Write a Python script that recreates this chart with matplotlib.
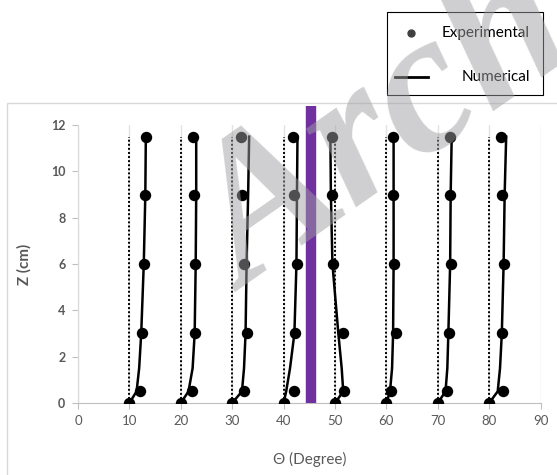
import matplotlib.pyplot as plt
from matplotlib.lines import Line2D
from matplotlib.patches import Rectangle

plt.rcParams['font.family'] = ['Lato', 'DejaVu Sans']

# heights of the measured points (cm)
z_exp = [0, 0.5, 3, 6, 9, 11.5]
z_num = [0, 0.5, 1.5, 3, 6, 9, 11.5]

# initial angle of each case (dotted reference lines)
theta0 = [10, 20, 30, 40, 50, 60, 70, 80]

exp_10 = [10, 12.1, 12.5, 12.9, 13.1, 13.2]
exp_20 = [20, 22.1, 22.8, 22.8, 22.6, 22.3]
exp_30 = [30, 32.2, 32.8, 32.2, 31.85, 31.65]
exp_40 = [40, 42.1, 42.2, 42.55, 42.1, 41.8]
exp_50 = [50, 51.75, 51.6, 49.55, 49.5, 49.5]
exp_60 = [60, 60.8, 61.8, 61.5, 61.35, 61.2]
exp_70 = [70, 71.85, 72.25, 72.6, 72.4, 72.4]
exp_80 = [80, 82.6, 82.45, 82.95, 82.55, 82.2]

num_10 = [10, 11.4, 11.9, 12.3, 12.8, 13.1, 13.2]
num_20 = [20, 21.5, 22.3, 22.7, 22.9, 23.0, 23.0]
num_30 = [30, 31.9, 32.3, 32.6, 32.8, 33.1, 33.3]
num_40 = [40, 40.5, 41.25, 42.1, 42.5, 42.6, 42.7]
num_50 = [50, 51.6, 51.3, 50.65, 49.5, 49.2, 49.1]
num_60 = [60, 60.7, 61.1, 61.3, 61.4, 61.4, 61.4]
num_70 = [70, 71.5, 71.85, 72.05, 72.4, 72.5, 72.7]
num_80 = [80, 81.65, 82.1, 82.45, 82.8, 83.0, 83.3]

exp_all = [exp_10, exp_20, exp_30, exp_40, exp_50, exp_60, exp_70, exp_80]
num_all = [num_10, num_20, num_30, num_40, num_50, num_60, num_70, num_80]

# purple marker line
bar_theta = 45.4
bar_top = 12.8
ref_top = 11.5

x_ticks = [0, 10, 20, 30, 40, 50, 60, 70, 80, 90]
y_ticks = [0, 2, 4, 6, 8, 10, 12]

fig = plt.figure(figsize=(5.57, 4.75), dpi=100)
ax = fig.add_axes([0.140, 0.1516, 0.8306, 0.5852])

# outer chart frame
fig.patches.append(Rectangle((7 / 557, -0.01), 1.0, 1 - 103 / 475 + 0.01,
                             transform=fig.transFigure, fill=False,
                             edgecolor='#d9d9d9', lw=1.0))

for t0 in theta0:
    ax.plot([t0, t0], [0, ref_top], color='black', lw=1.4,
            linestyle=(0, (1, 1.1)), zorder=2)

for num in num_all:
    ax.plot(num, z_num, color='black', lw=1.8, zorder=3)

for ex in exp_all:
    ax.plot(ex, z_exp, 'o', color='black', ms=7.2, zorder=4)

ax.plot([bar_theta, bar_theta], [0, bar_top], color='#7030a0', lw=7.5,
        solid_capstyle='butt', clip_on=False, zorder=5)

ax.set_xlim(0, 90)
ax.set_ylim(0, 12)
ax.set_xticks(x_ticks)
ax.set_yticks(y_ticks)
ax.grid(axis='x', color='#e3e3e3', lw=1.0)
ax.set_axisbelow(True)
for s in ['top', 'right']:
    ax.spines[s].set_visible(False)
ax.spines['left'].set_color('#d9d9d9')
ax.spines['bottom'].set_color('#bfbfbf')
ax.tick_params(axis='y', length=4, color='#bfbfbf', labelcolor='#595959',
               labelsize=9, pad=5)
ax.tick_params(axis='x', length=4, color='#bfbfbf', labelcolor='#595959',
               labelsize=9.5, pad=5)
for lab in ax.get_yticklabels():
    lab.set_fontweight('bold')

ax.set_ylabel('Z (cm)', fontsize=11, fontweight='bold', color='#595959')
ax.yaxis.set_label_coords(-0.10, 0.5)
ax.set_xlabel('\u0398 (Degree)', fontsize=11, color='#595959')
ax.xaxis.set_label_coords(0.5, -0.175)

# legend box
fig.patches.append(Rectangle((387 / 557, 1 - 95 / 475), 156 / 557, 83 / 475,
                             transform=fig.transFigure, facecolor='white',
                             edgecolor='black', lw=0.8, zorder=10))
fig.lines.append(Line2D([411 / 557], [1 - 33 / 475], marker='o', ms=5,
                        color='#404040', transform=fig.transFigure, zorder=11))
fig.lines.append(Line2D([395 / 557, 428 / 557], [1 - 77 / 475, 1 - 77 / 475],
                        color='black', lw=2, transform=fig.transFigure, zorder=11))
fig.text(530 / 557, 1 - 33 / 475, 'Experimental', ha='right', va='center',
         fontsize=11, zorder=12)
fig.text(530 / 557, 1 - 77 / 475, 'Numerical', ha='right', va='center',
         fontsize=11, zorder=12)

# watermark
fig.text(245 / 557, 1 - 292 / 475, 'Archive', rotation=35, rotation_mode='anchor',
         ha='left', va='baseline', fontsize=145, fontweight='bold', style='italic',
         family='Liberation Serif', color='#a0a0a3', alpha=0.5, zorder=20)

fig.savefig('out.png', dpi=100)
